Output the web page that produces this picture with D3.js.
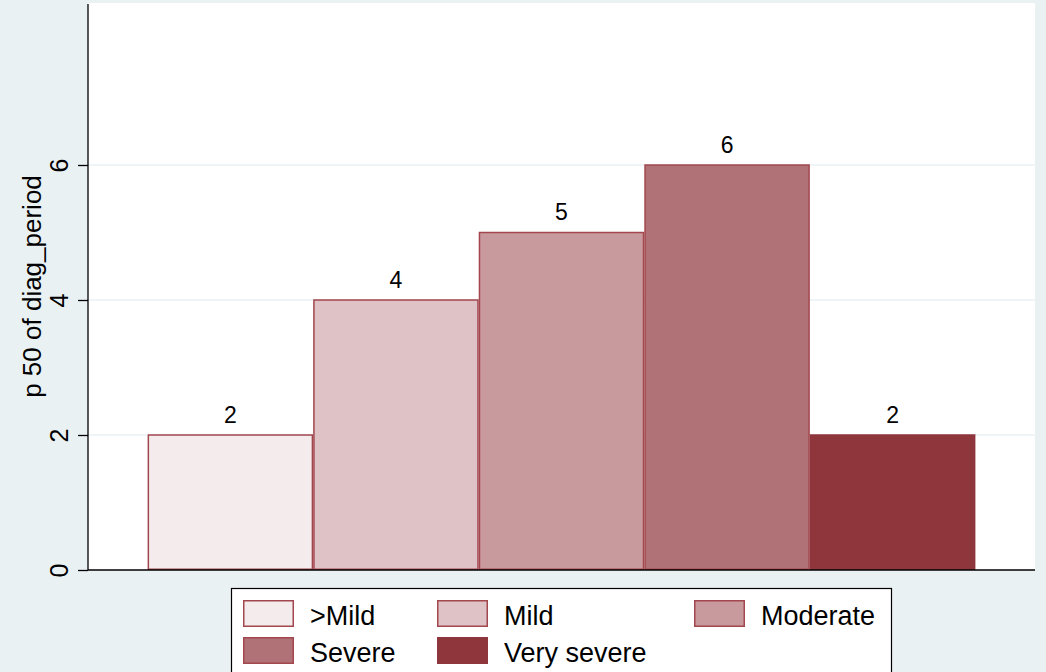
<!DOCTYPE html>
<html><head><meta charset="utf-8">
<script src="https://cdn.jsdelivr.net/npm/d3@7"></script>
<style>html,body{margin:0;padding:0;background:#EAF1F3;}svg{display:block;font-family:Arial,"Liberation Sans",Helvetica,sans-serif;}</style>
</head><body>
<svg id="c" width="1046" height="672"></svg>
<script>
const categories = [">Mild", "Mild", "Moderate", "Severe", "Very severe"];
const values = [2, 4, 5, 6, 2];
const yTicks = [0, 2, 4, 6];
const fills = ["#F4EBEC", "#DEC2C5", "#C8999D", "#B07276", "#8F363D"];
const strokes = ["#A2474E", "#A2474E", "#A2474E", "#A2474E", "#8F363D"];
const yTitle = "p 50 of diag_period";

const svg = d3.select("#c");
const W = 1046, H = 672;
const plot = {l: 88, r: 1035, t: 3, b: 570};

svg.append("rect").attr("width", W).attr("height", H).attr("fill", "#EAF1F3");
svg.append("rect").attr("x", plot.l).attr("y", plot.t).attr("width", plot.r - plot.l).attr("height", plot.b - plot.t).attr("fill", "#fff");

const y = d3.scaleLinear().domain([0, 8.4]).range([plot.b, plot.t]);
const x = d3.scaleBand().domain(categories).range([plot.l, plot.r]).paddingInner(0).paddingOuter(0.36);

// gridlines
svg.append("g").selectAll("line").data(yTicks.filter(d => d > 0)).join("line")
  .attr("x1", plot.l).attr("x2", plot.r)
  .attr("y1", d => y(d)).attr("y2", d => y(d))
  .attr("stroke", "#EAF1F3").attr("stroke-width", 1.5);

// bars
svg.append("g").selectAll("rect").data(values).join("rect")
  .attr("x", (d, i) => x(categories[i]) + 0.75)
  .attr("width", x.bandwidth() - 1.5)
  .attr("y", d => y(d))
  .attr("height", d => y(0) - y(d) - 0.75)
  .attr("fill", (d, i) => fills[i])
  .attr("stroke", (d, i) => strokes[i])
  .attr("stroke-width", 1.5);

// value labels
svg.append("g").selectAll("text").data(values).join("text")
  .attr("x", (d, i) => x(categories[i]) + x.bandwidth() / 2)
  .attr("y", d => y(d) - 12.5)
  .attr("text-anchor", "middle")
  .attr("font-size", 23)
  .attr("fill", "#000")
  .text(d => d);

// y axis
const yAxis = d3.axisLeft(y).tickValues(yTicks).tickSize(10).tickPadding(10).tickFormat(d3.format("d"));
const ga = svg.append("g").attr("transform", `translate(${plot.l},0)`).call(yAxis);
ga.select(".domain").attr("d", `M0,${plot.t + 1}V${plot.b}`).attr("stroke", "#000").attr("stroke-width", 1.3);
ga.selectAll(".tick line").attr("stroke", "#000").attr("stroke-width", 1.3);
ga.selectAll(".tick text")
  .attr("font-size", 25).attr("font-family", "Arial, 'Liberation Sans', sans-serif").attr("fill", "#000")
  .attr("text-anchor", "middle").attr("dy", 0).attr("x", 0)
  .attr("transform", "translate(-20,0) rotate(-90)");

// x axis line
svg.append("line").attr("x1", plot.l).attr("x2", plot.r).attr("y1", plot.b).attr("y2", plot.b)
  .attr("stroke", "#000").attr("stroke-width", 1.3);

// y title
svg.append("text")
  .attr("transform", `translate(41,${(plot.t + plot.b) / 2}) rotate(-90)`)
  .attr("text-anchor", "middle").attr("font-size", 26).attr("fill", "#000")
  .text(yTitle);

// legend
const lg = svg.append("g");
lg.append("rect").attr("x", 231.5).attr("y", 588.5).attr("width", 660).attr("height", 100)
  .attr("fill", "#fff").attr("stroke", "#000").attr("stroke-width", 1.2);
const colX = [243, 437, 694];
const rowY = [600, 637];
categories.forEach((c, i) => {
  const col = i % 3, row = Math.floor(i / 3);
  lg.append("rect").attr("x", colX[col] + 0.75).attr("y", rowY[row] + 0.75).attr("width", 49.5).attr("height", 25.5)
    .attr("fill", fills[i]).attr("stroke", strokes[i]).attr("stroke-width", 1.5);
  lg.append("text").attr("x", colX[col] + 67).attr("y", rowY[row] + 24.5)
    .attr("font-size", 27).attr("fill", "#000").text(c);
});
</script>
</body></html>
